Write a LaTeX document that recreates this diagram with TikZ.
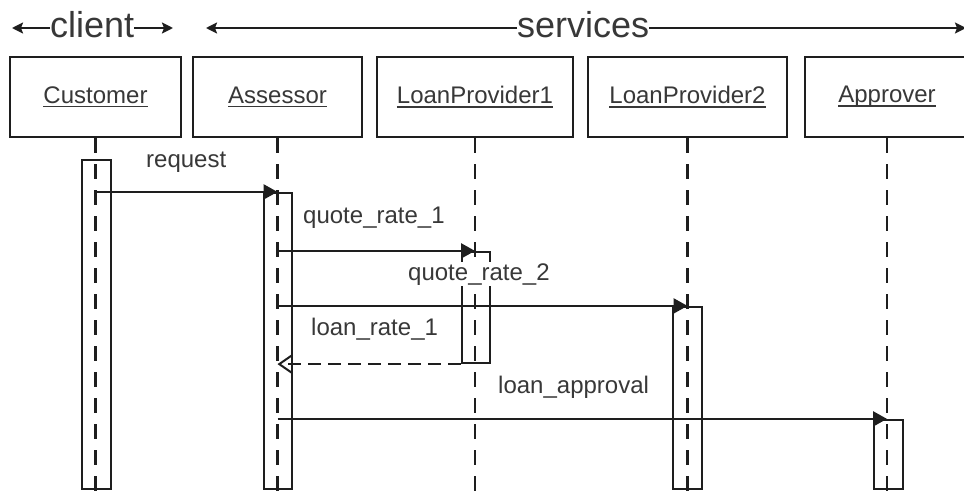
\documentclass[tikz,border=0pt]{standalone}
\usepackage{fontspec}
\setmainfont{Liberation Sans}
\usetikzlibrary{arrows.meta}
\definecolor{ink}{HTML}{1E1E1E}
\definecolor{txt}{HTML}{383838}
\newcommand\ulntext[1]{\setbox0\hbox{#1}\rlap{\color{txt}\rule[-4pt]{\wd0}{1.6pt}}\box0}
\begin{document}
\begin{tikzpicture}[x=1pt,y=-1pt,
  objbox/.style={draw=ink, line width=2.2pt, minimum height=80pt, inner sep=0pt,
    text=txt, font=\fontsize{24}{28}\selectfont},
  life/.style={draw=ink, line width=2.4pt, dash pattern=on 15pt off 11pt},
  act/.style={draw=ink, line width=2.2pt, minimum width=28pt, inner sep=0pt},
  msg/.style={draw=ink, line width=2.2pt, -{Triangle[length=14pt,width=15pt]}},
  reply/.style={draw=ink, line width=2.2pt, dash pattern=on 13pt off 7pt,
    -{Straight Barb[length=13pt,width=18pt,line width=2pt]}},
  lbl/.style={anchor=base west, inner sep=1pt, text=txt, font=\fontsize{24}{28}\selectfont},
  hdr/.style={anchor=base west, inner sep=0pt, text=txt, font=\fontsize{36}{40}\selectfont},
  hdrarrow/.style={draw=ink, line width=2.2pt, -{Stealth[length=11pt,width=11pt,inset=2pt]}},
]
\fill[white] (0,0) rectangle (964,501);
\useasboundingbox (0,0) rectangle (964,501);

% header
\node[hdr] (client) at (50,37) {client};
\node[hdr] (services) at (517,37) {services};
\coordinate (clL) at (12,28);
\coordinate (clR) at (173,28);
\coordinate (svL) at (206,28);
\coordinate (svR) at (966,28);
\draw[hdrarrow] (clL -| client.west) -- (clL);
\draw[hdrarrow] (clR -| client.east) -- (clR);
\draw[hdrarrow] (svL -| services.west) -- (svL);
\draw[hdrarrow] (svR -| services.east) -- (svR);

% objects
\node[objbox, minimum width=171pt] (cust) at (95.5,97) {\ulntext{Customer}};
\node[objbox, minimum width=169pt] (ass) at (277.5,97) {\ulntext{Assessor}};
\node[objbox, minimum width=196pt] (lp1) at (475,97) {\ulntext{LoanProvider1}};
\node[objbox, minimum width=199pt] (lp2) at (687.5,97) {\ulntext{LoanProvider2}};
\node[objbox, minimum width=164pt] (app) at (887,97) {\ulntext{Approver}};

% lifelines
\coordinate (bot) at (0,502);
\foreach \o in {cust,ass,lp1,lp2,app}{
  \draw[life] (\o.south) -- (\o.south |- bot);
}

% activations
\node[act, minimum width=29pt, minimum height=329pt] (custAct) at (96.5,324.5) {};
\node[act, minimum height=296pt] (assAct) at (278,341) {};
\node[act, minimum height=111pt] (lp1Act) at (476,307.5) {};
\node[act, minimum width=29pt, minimum height=182pt] (lp2Act) at (687.5,398) {};
\node[act, minimum width=29pt, minimum height=69pt] (appAct) at (888.5,454.5) {};

% messages
\draw[msg] (cust.south |- assAct.north) -- (ass.south |- assAct.north);
\draw[msg] (ass.south |- lp1Act.north) -- (lp1.south |- lp1Act.north);
\draw[msg] (ass.south |- lp2Act.north) -- (lp2.south |- lp2Act.north);
\draw[reply] (lp1Act.south west) -- (ass.south |- lp1Act.south);
\draw[msg] (ass.south |- appAct.north) -- (app.south |- appAct.north);

% labels
\node[lbl] (lReq) at (145,167) {request};
\node[lbl] (lQ1) at (302,223) {quote\_rate\_1};
\node[lbl, fill=white] (lQ2) at (407,280) {quote\_rate\_2};
\node[lbl] (lL1) at (310,335) {loan\_rate\_1};
\node[lbl] (lLA) at (497,393) {loan\_approval};
\end{tikzpicture}
\end{document}
